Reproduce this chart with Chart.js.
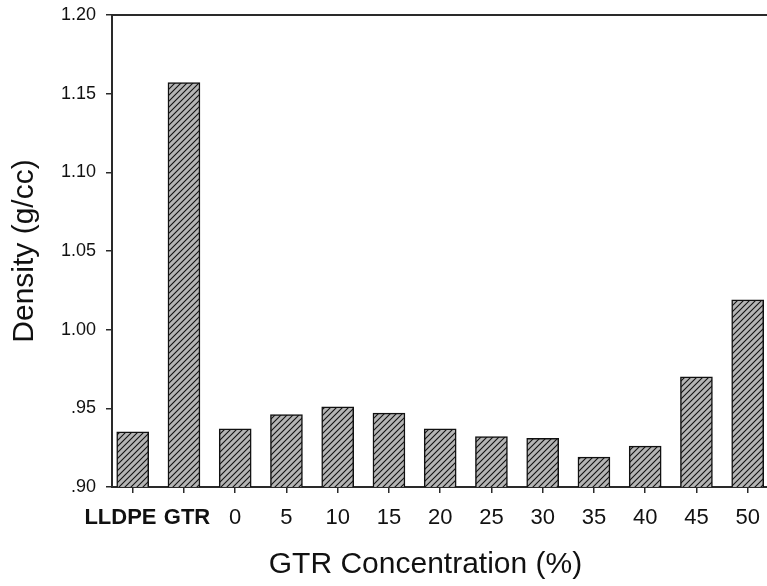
<!DOCTYPE html>
<html>
<head>
<meta charset="utf-8">
<script src="https://cdn.jsdelivr.net/npm/chart.js@4/dist/chart.umd.min.js"></script>
<style>
  html, body { margin: 0; padding: 0; background: #fff; }
  #wrap { width: 767px; height: 586px; }
</style>
</head>
<body>
<div id="wrap"><canvas id="densityChart" width="767" height="586"></canvas></div>
<script>
const categories = ['LLDPE', 'GTR', '0', '5', '10', '15', '20', '25', '30', '35', '40', '45', '50'];
const density = [0.935, 1.157, 0.937, 0.946, 0.951, 0.947, 0.937, 0.932, 0.931, 0.919, 0.926, 0.970, 1.019];
const yTicks = [0.90, 0.95, 1.00, 1.05, 1.10, 1.15, 1.20];

const FONT = "'Liberation Sans', Arial, sans-serif";

// diagonal hatch like the sigmaplot fill
function hatch() {
    const c = document.createElement('canvas');
    c.width = 6; c.height = 6;
    const g = c.getContext('2d');
    g.fillStyle = '#b5b5b5';
    g.fillRect(0, 0, 6, 6);
    g.strokeStyle = '#111';
    g.lineWidth = 1.1;
    g.beginPath();
    g.moveTo(-1, 7); g.lineTo(7, -1);
    g.moveTo(-1, 1); g.lineTo(1, -1);
    g.moveTo(5, 7); g.lineTo(7, 5);
    g.stroke();
    return g.createPattern(c, 'repeat');
}

// the two named groups sit close together under their bars, nudge them apart with spaces
function xLabel(i) {
    if (i === 0) return categories[i] + '    ';
    if (i === 1) return ' ' + categories[i];
    return categories[i];
}

const frame = {
    id: 'frame',
    afterDraw(chart) {
        const { ctx, chartArea } = chart;
        ctx.save();
        ctx.strokeStyle = '#2a2a2a';
        ctx.lineWidth = 2;
        ctx.beginPath();
        ctx.moveTo(chartArea.left - 1, chartArea.top);
        ctx.lineTo(chartArea.right, chartArea.top);
        ctx.stroke();
        // x axis title, sits a bit left of the plot centre in the original
        ctx.fillStyle = '#111';
        ctx.font = '30px ' + FONT;
        ctx.textAlign = 'center';
        ctx.textBaseline = 'alphabetic';
        ctx.fillText('GTR Concentration (%)', (chartArea.left + chartArea.right) / 2 - 14, 573);
        ctx.restore();
    }
};

const ctx = document.getElementById('densityChart').getContext('2d');
new Chart(ctx, {
    type: 'bar',
    data: {
        datasets: [{
            data: density.map((v, i) => ({ x: i, y: v })),
            backgroundColor: hatch(),
            borderColor: '#111',
            borderWidth: 1.5,
            barThickness: 32,
            borderSkipped: 'bottom'
        }]
    },
    options: {
        responsive: false,
        animation: false,
        events: [],
        layout: { padding: { top: 15, right: 0, left: 0, bottom: 0 } },
        plugins: {
            legend: { display: false },
            tooltip: { enabled: false }
        },
        scales: {
            x: {
                type: 'linear',
                offset: false,
                min: -0.404,
                max: 12.377,
                afterBuildTicks: s => { s.ticks = categories.map((_, i) => ({ value: i })); },
                afterFit: s => { s.height = 99; s.paddingLeft = 0; s.paddingRight = 0; },
                grid: { offset: false, drawOnChartArea: false, drawTicks: true, tickLength: 6, color: '#2a2a2a', lineWidth: 1.5 },
                border: { color: '#2a2a2a', width: 2 },
                ticks: {
                    padding: 12,
                    color: '#111',
                    maxRotation: 0,
                    autoSkip: false,
                    callback: v => xLabel(v),
                    font: c => ({ family: FONT, size: 22, weight: c.index < 2 ? 'bold' : 'normal' })
                }
            },
            y: {
                min: 0.90,
                max: 1.20,
                afterBuildTicks: s => { s.ticks = yTicks.map(v => ({ value: v })); },
                afterFit: s => { s.width = 112; s.paddingTop = 0; s.paddingBottom = 0; },
                grid: { drawOnChartArea: false, drawTicks: true, tickLength: 6, color: '#2a2a2a', lineWidth: 1.5 },
                border: { color: '#2a2a2a', width: 2 },
                ticks: {
                    padding: 10,
                    color: '#111',
                    font: { family: FONT, size: 18 },
                    callback: v => {
                        const s = Number(v).toFixed(2);
                        return s.startsWith('0') ? s.slice(1) : s;
                    }
                },
                title: {
                    display: true,
                    text: 'Density (g/cc)',
                    color: '#111',
                    font: { family: FONT, size: 30 },
                    padding: { top: 7, bottom: 0 }
                }
            }
        }
    },
    plugins: [frame]
});
</script>
</body>
</html>
